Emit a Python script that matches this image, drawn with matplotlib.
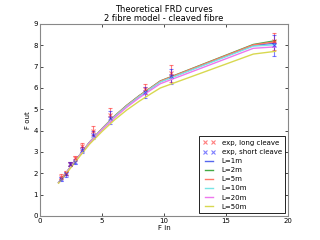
import matplotlib as mpl
mpl.use('Agg')
import matplotlib.pyplot as plt
from matplotlib.lines import Line2D

# experimental points
x_exp = [1.7, 2.1, 2.45, 2.85, 3.4, 4.25, 5.65, 8.5, 10.6, 18.9]
y_long = [1.85, 2.0, 2.45, 2.7, 3.26, 4.0, 4.75, 5.95, 6.7, 8.2]
e_long = [0.1, 0.1, 0.1, 0.1, 0.15, 0.2, 0.3, 0.25, 0.4, 0.4]
y_short = [1.72, 1.95, 2.45, 2.55, 3.1, 3.8, 4.6, 5.8, 6.55, 8.0]
e_short = [0.1, 0.1, 0.1, 0.1, 0.15, 0.2, 0.3, 0.25, 0.35, 0.5]

# model curves
x_mod = [1.5, 2.0, 3.0, 4.0, 5.0, 6.0, 7.0, 8.0, 9.0, 9.7, 17.2, 19.0]
curves = {
    'L=1m':  [1.57, 1.94, 2.7, 3.45, 4.08, 4.66, 5.17, 5.62, 6.02, 6.3, 8.0, 8.1],
    'L=2m':  [1.57, 1.94, 2.7, 3.46, 4.09, 4.68, 5.19, 5.64, 6.04, 6.33, 8.04, 8.22],
    'L=5m':  [1.57, 1.94, 2.7, 3.46, 4.09, 4.67, 5.18, 5.63, 6.03, 6.32, 8.02, 8.17],
    'L=10m': [1.57, 1.94, 2.7, 3.45, 4.07, 4.65, 5.15, 5.6, 6.0, 6.28, 7.96, 8.03],
    'L=20m': [1.56, 1.93, 2.69, 3.43, 4.04, 4.6, 5.1, 5.54, 5.93, 6.2, 7.86, 7.93],
    'L=50m': [1.54, 1.9, 2.65, 3.37, 3.96, 4.5, 4.97, 5.38, 5.75, 6.0, 7.59, 7.72],
}
colors = ['#5566ee', '#44aa44', '#ff7766', '#77e5e5', '#ee77ee', '#d8d850']

fig = plt.figure(figsize=(3.2, 2.4), dpi=100)
ax = fig.add_axes([0.125, 0.1, 0.775, 0.8])

ax.errorbar(x_exp, y_long, yerr=e_long, fmt='x', color='r', alpha=0.5,
            ms=3, mew=0.8, elinewidth=0.8, capsize=1.5)
ax.errorbar(x_exp, y_short, yerr=e_short, fmt='x', color='b', alpha=0.5,
            ms=3, mew=0.8, elinewidth=0.8, capsize=1.5)
handles = [Line2D([], [], ls='none', marker='x', color='r', alpha=0.5,
                  ms=3, mew=0.8),
           Line2D([], [], ls='none', marker='x', color='b', alpha=0.5,
                  ms=3, mew=0.8)]
labels = ['exp, long cleave', 'exp, short cleave']
for (name, ys), c in zip(curves.items(), colors):
    ln, = ax.plot(x_mod, ys, color=c, lw=1.0)
    handles.append(ln)
    labels.append(name)

ax.set_xlim(0, 20)
ax.set_ylim(0, 9)
ax.set_xticks([0, 5, 10, 15, 20])
ax.set_yticks(range(10))
ax.tick_params(direction='in', top=True, right=True, labelsize=5, length=2,
               width=0.5, pad=1.5)
for s in ax.spines.values():
    s.set_linewidth(0.8)
    s.set_color('#888888')
ax.set_xlabel('F in', fontsize=5, labelpad=1)
ax.set_ylabel('F out', fontsize=5, labelpad=2)
ax.set_title('Theoretical FRD curves\n2 fibre model - cleaved fibre',
             fontsize=6, linespacing=1.1, pad=2)

leg = ax.legend(handles, labels, loc='lower right', fontsize=5, numpoints=2,
                fancybox=False, framealpha=1, handlelength=1.8,
                labelspacing=0.45, borderpad=0.5, handletextpad=0.9,
                borderaxespad=0.4)
leg.get_frame().set_edgecolor('black')
leg.get_frame().set_linewidth(0.6)

plt.savefig('out.png', dpi=100)
